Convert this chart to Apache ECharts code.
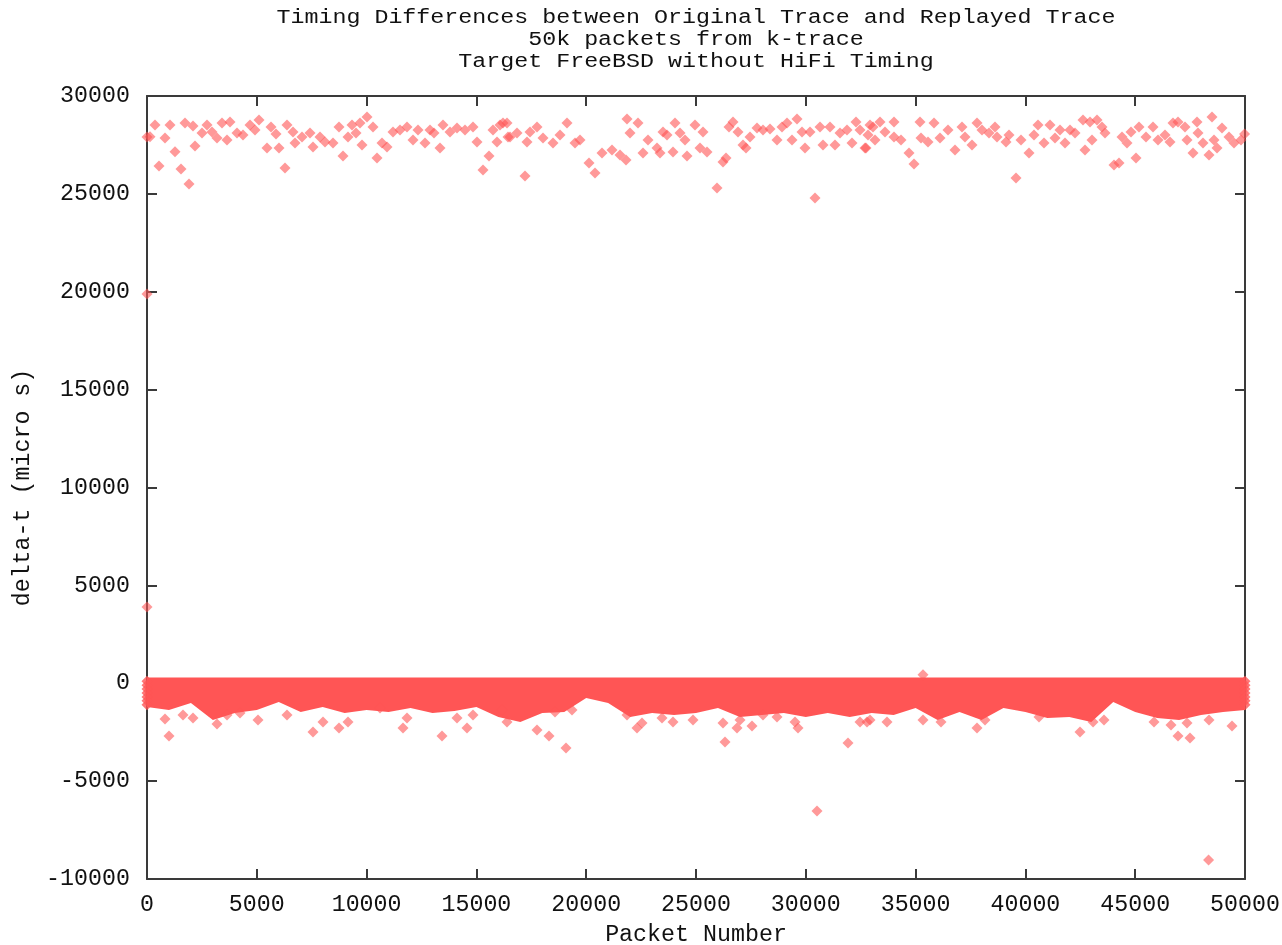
<!DOCTYPE html>
<html>
<head>
<meta charset="utf-8">
<script src="https://cdn.jsdelivr.net/npm/echarts@6/dist/echarts.min.js"></script>
<style>
  html, body { margin: 0; padding: 0; background: #fff; }
  #chart { width: 1282px; height: 945px; }
</style>
</head>
<body>
<div id="chart"></div>
<script>
// Title lines
const titleLines = ['Timing Differences between Original Trace and Replayed Trace', '50k packets from k-trace', 'Target FreeBSD without HiFi Timing'];

// Axis ticks
const xTicks = [0, 5000, 10000, 15000, 20000, 25000, 30000, 35000, 40000, 45000, 50000];
const yTicks = [-10000, -5000, 0, 5000, 10000, 15000, 20000, 25000, 30000];

// Upper cluster of delayed packets (packet number, delta-t in micro s)
const upperPkt = [0, 137, 364, 546, 820, 1047, 1275, 1548, 1730, 1913, 2095, 2186, 2505, 2732, 2960, 3188, 3415, 3643, 3780, 4098,
  4372, 4690, 4918, 5100, 5464, 5647, 5874, 6011, 6284, 6375, 6649, 6740, 7058, 7422, 7559, 7878, 8105, 8470, 8743, 8925,
  9153, 9335, 9517, 9699, 9790, 10018, 10291, 10474, 10701, 10929, 11202, 11521, 11840, 12113, 12341, 12659, 12887, 13069, 13342, 13479,
  13798, 14117, 14481, 14845, 15027, 15301, 15574, 15756, 15938, 16075, 16393, 16530, 16849, 16211, 16439, 17213, 17304, 17441, 17760, 18033,
  18488, 18807, 19126, 19490, 19718, 20128, 20401, 20720, 21175, 21539, 21813, 21858, 21995, 22359, 22587, 22814, 23224, 23361, 23497, 23679,
  23953, 24044, 24271, 24499, 24590, 24954, 25182, 25319, 25501, 25956, 26230, 26366, 26503, 26685, 26913, 27140, 27277, 27459, 27777, 28051,
  28370, 28689, 28916, 29144, 29372, 29599, 29827, 29964, 30191, 30419, 30647, 30783, 31102, 31330, 31557, 31876, 32104, 32286, 32468, 32696,
  32832, 33060, 32741, 32923, 33151, 33379, 33607, 34016, 34016, 34335, 34699, 34927, 35200, 35246, 35564, 35838, 36111, 36475, 36794, 37113,
  37250, 37568, 37796, 38024, 38342, 38616, 38707, 39116, 39253, 39572, 39800, 40164, 40392, 40574, 40847, 41120, 41348, 41576, 41803, 42031,
  42259, 42623, 42714, 42942, 43033, 43260, 43488, 43625, 44034, 44262, 44399, 44626, 44808, 45036, 45173, 45491, 45810, 46038, 46357, 46585,
  46721, 46949, 47268, 47359, 47632, 47814, 47860, 48087, 48361, 48497, 48588, 48725, 48953, 49271, 49499, 49818, 49980];
const upperDelta = [27900, 27920, 28518, 26424, 27850, 28520, 27155, 26270, 28620, 25500, 28470, 27450, 28110, 28520, 28160, 27850, 28620, 27750, 28670, 28110,
  28010, 28520, 28260, 28770, 27340, 28420, 28060, 27340, 26320, 28520, 28160, 27600, 27900, 28110, 27390, 27900, 27650, 27600, 28420, 26930,
  27900, 28520, 28110, 28620, 27500, 28930, 28420, 26830, 27600, 27390, 28160, 28260, 28420, 27750, 28260, 27600, 28260, 28110, 27340, 28520,
  28160, 28370, 28260, 28420, 27650, 26220, 26930, 28260, 27650, 28520, 28620, 27900, 28110, 28620, 27900, 25910, 27650, 28160, 28420, 27850,
  27600, 28010, 28620, 27600, 27750, 26580, 26070, 27090, 27240, 26990, 26730, 28830, 28110, 28620, 27090, 27750, 27340, 27090, 28160, 28010,
  27140, 28620, 28110, 27750, 26930, 28520, 27340, 28160, 27140, 25300, 26630, 26830, 28420, 28670, 28160, 27500, 27340, 27900, 28370, 28260,
  28310, 27750, 28420, 28620, 27750, 28830, 28160, 27340, 28160, 24790, 28420, 27500, 28420, 27500, 28110, 28260, 27600, 28670, 28260, 27340,
  28010, 28420, 27340, 28520, 27750, 28670, 28160, 28670, 27900, 27750, 27090, 26530, 28670, 27850, 27650, 28620, 27850, 28260, 27240, 28420,
  27900, 27500, 28620, 28260, 28110, 28420, 27900, 27650, 28010, 25810, 27750, 27090, 28010, 28520, 27600, 28520, 27850, 28260, 27600, 28260,
  28110, 28770, 27240, 28670, 27750, 28770, 28420, 28110, 26480, 26580, 27900, 27600, 28160, 26830, 28420, 27900, 28420, 27750, 28010, 27650,
  28620, 28670, 28420, 27750, 27090, 28670, 28110, 27600, 26990, 28930, 27750, 27340, 28370, 27900, 27600, 27750, 28060];

// Early start-up points
const startPkt = [0, 0];
const startDelta = [19885, 3895];

// Dense bulk of packets: band edges sampled every 1000 packets
const bandPkt = [0, 1000, 2000, 3000, 4000, 5000, 6000, 7000, 8000, 9000, 10000, 11000, 12000, 13000, 14000, 15000, 16000,
  17000, 18000, 19000, 20000, 21000, 22000, 23000, 24000, 25000, 26000, 27000, 28000, 29000, 30000, 31000, 32000, 33000,
  34000, 35000, 36000, 37000, 38000, 39000, 40000, 41000, 42000, 43000, 44000, 45000, 46000, 47000, 48000, 49000, 50000];
const bandHigh = [300, 300, 300, 300, 300, 300, 300, 300, 300, 300, 300, 300, 300, 300, 300, 300, 300,
  300, 300, 300, 300, 300, 300, 300, 300, 300, 300, 300, 300, 300, 300, 300, 300, 300,
  300, 300, 300, 300, 300, 300, 300, 300, 300, 300, 300, 300, 300, 300, 300, 300, 300];
const bandLow = [-1213, -1366, -1008, -1877, -1519, -1366, -957, -1468, -1213, -1519, -1366, -1468, -1264, -1519, -1417, -1213, -1724,
  -1980, -1519, -1468, -753, -1008, -1724, -1519, -1621, -1519, -1264, -1724, -1621, -1519, -1724, -1519, -1724, -1519,
  -1621, -1264, -1877, -1468, -1877, -1264, -1468, -1775, -1724, -1980, -957, -1468, -1775, -1877, -1621, -1468, -1366];

// Packets at the first and last index inside the bulk
const edgePkt = [0, 0, 0, 0, 0, 0, 0, 50000, 50000, 50000, 50000, 50000, 50000, 50000];
const edgeDelta = [100, -100, -300, -500, -700, -900, -1100, 100, -100, -300, -500, -700, -900, -1100];

// Scattered packets below and above the bulk
const lowPkt = [820, 1002, 1639, 2095, 3188, 3643, 4235, 5055, 6375, 7559, 8015, 8743, 9153, 10610, 11658, 11840, 13434, 14117, 14572, 14845,
  16166, 16393, 17760, 18306, 18580, 19080, 19353, 21858, 22313, 22541, 23452, 23953, 24863, 26230, 26321, 26867, 27004, 27550, 28051, 28689,
  29508, 29645, 30510, 31922, 32468, 32923, 32787, 33698, 35337, 35337, 36156, 37796, 38160, 40620, 42487, 43080, 43580, 45855, 46630, 46949,
  47495, 47359, 48340, 48361, 49408];
const lowDelta = [-1826, -2695, -1621, -1775, -2082, -1621, -1519, -1877, -1621, -2490, -1980, -2290, -1980, -1264, -2290, -1775, -2695, -1775, -2290, -1621,
  -1366, -1980, -2390, -2695, -1468, -3310, -1366, -1621, -2290, -2030, -1775, -1980, -1880, -2030, -3000, -2290, -1877, -2180, -1621, -1724,
  -1980, -2290, -6526, -3050, -1980, -1877, -1980, -1980, -1877, 430, -1980, -2290, -1877, -1724, -2490, -1980, -1877, -1980, -2133, -2695,
  -2795, -2030, -9029, -1877, -2180];

const pairs = (xs, ys) => xs.map((x, i) => [x, ys[i]]);

const RED = '#ff5555';
const AXIS = '#3a3a3a';
const TEXT = '#111';
const FONT = '"Liberation Mono", "DejaVu Sans Mono", monospace';
const FS = 23.3;

const chart = echarts.init(document.getElementById('chart'), null, { renderer: 'canvas' });

const pointStyle = { color: RED, opacity: 0.6 };
const plain = v => String(v);

const commonAxisLine = { show: true, onZero: false, lineStyle: { color: AXIS, width: 2 } };
const commonTick = { show: true, inside: true, length: 10, lineStyle: { color: AXIS, width: 2 } };

// Title: three centred lines in a narrow, widely spaced monospace face
const titleGraphics = titleLines.map((line, i) => ({
  type: 'text',
  x: 696,
  y: 18 + i * 22,
  scaleX: 1.165,
  style: {
    text: line,
    font: '20px ' + FONT,
    fill: TEXT,
    textAlign: 'center',
    textVerticalAlign: 'middle'
  }
}));

chart.setOption({
  animation: false,
  backgroundColor: '#ffffff',
  graphic: titleGraphics,
  grid: { left: 147, right: 37, top: 96, bottom: 66, containLabel: false, outerBoundsMode: 'none' },
  xAxis: [{
    type: 'value', min: 0, max: 50000, interval: 5000,
    name: 'Packet Number', nameLocation: 'middle', nameGap: 44,
    nameTextStyle: { fontFamily: FONT, fontSize: FS, color: TEXT },
    axisLine: commonAxisLine, axisTick: commonTick,
    axisLabel: { fontFamily: FONT, fontSize: FS, color: TEXT, margin: 14, formatter: plain },
    splitLine: { show: false }
  }, {
    type: 'value', position: 'top', min: 0, max: 50000, interval: 5000,
    axisLine: commonAxisLine, axisTick: commonTick,
    axisLabel: { show: false }, splitLine: { show: false }
  }],
  yAxis: [{
    type: 'value', min: -10000, max: 30000, interval: 5000,
    name: 'delta-t (micro s)', nameLocation: 'middle', nameGap: 113, nameRotate: 90,
    nameTextStyle: { fontFamily: FONT, fontSize: FS, color: TEXT },
    axisLine: commonAxisLine, axisTick: commonTick,
    axisLabel: { fontFamily: FONT, fontSize: FS, color: TEXT, margin: 17, formatter: plain },
    splitLine: { show: false }
  }, {
    type: 'value', position: 'right', min: -10000, max: 30000, interval: 5000,
    axisLine: commonAxisLine, axisTick: commonTick,
    axisLabel: { show: false }, splitLine: { show: false }
  }],
  series: [
    {
      // Bulk of packets: filled band between the sampled edges
      type: 'custom',
      xAxisIndex: 0, yAxisIndex: 0,
      data: [0],
      silent: true,
      renderItem: function (params, api) {
        const pts = [];
        for (let i = 0; i < bandPkt.length; i++) pts.push(api.coord([bandPkt[i], bandHigh[i]]));
        for (let i = bandPkt.length - 1; i >= 0; i--) pts.push(api.coord([bandPkt[i], bandLow[i]]));
        return { type: 'polygon', shape: { points: pts }, style: { fill: RED } };
      },
      z: 1
    },
    {
      type: 'scatter', symbol: 'diamond', symbolSize: 11,
      data: pairs(edgePkt, edgeDelta), itemStyle: { color: RED }, z: 2
    },
    {
      type: 'scatter', symbol: 'diamond', symbolSize: 11,
      data: pairs(upperPkt, upperDelta), itemStyle: pointStyle, z: 2
    },
    {
      type: 'scatter', symbol: 'diamond', symbolSize: 11,
      data: pairs(startPkt, startDelta), itemStyle: pointStyle, z: 2
    },
    {
      type: 'scatter', symbol: 'diamond', symbolSize: 11,
      data: pairs(lowPkt, lowDelta), itemStyle: pointStyle, z: 2
    }
  ]
});
</script>
</body>
</html>
